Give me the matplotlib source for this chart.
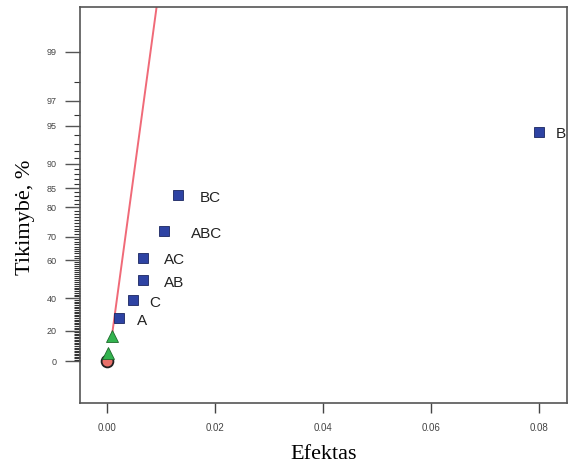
import matplotlib
matplotlib.use("Agg")
import matplotlib.pyplot as plt
from statistics import NormalDist

# half-normal probability plot of effects
effect_labels = ['A', 'C', 'AB', 'AC', 'ABC', 'BC', 'B']
effect_x = [0.0022, 0.0048, 0.0067, 0.0067, 0.0106, 0.0131, 0.0800]
effect_prob = [27.8, 38.9, 50.0, 61.1, 72.2, 83.3, 94.4]

error_x = [0.0002, 0.0009]
error_prob = [5.6, 16.7]

zero_x = [0.0]
zero_prob = [0.0]

line_x = [0.0009, 0.0096]
line_prob = [16.7, 99.8]

ytick_vals = [0, 20, 40, 60, 70, 80, 85, 90, 95, 97, 99]
xtick_vals = [0.00, 0.02, 0.04, 0.06, 0.08]

nd = NormalDist()


def hn(p):
    # percent -> half-normal quantile
    return nd.inv_cdf(0.5 + p / 200.0)


fig = plt.figure(figsize=(5.68, 4.66), dpi=100)
ax = fig.add_axes([0.141, 0.135, 0.857, 0.850])

ax.plot(line_x, [hn(p) for p in line_prob], color='#f06a78', lw=1.4, zorder=2)

ax.plot(zero_x, [hn(p) for p in zero_prob], 'o', ms=8.5, mfc='#e8706a',
        mec='#202020', mew=1.3, zorder=3)
ax.plot(error_x, [hn(p) for p in error_prob], '^', ms=9, mfc='#33b34f',
        mec='#1d6a2c', mew=0.6, zorder=4)
ax.plot(effect_x, [hn(p) for p in effect_prob], 's', ms=7, mfc='#2e43a3',
        mec='#1a2660', mew=0.6, zorder=4)

dx = [13, 12, 15, 15, 19, 16, 12]
for lab, x, p, d in zip(effect_labels, effect_x, effect_prob, dx):
    ax.annotate(lab, (x, hn(p)), xytext=(d, -2), textcoords='offset points',
                ha='left', va='center', fontsize=11, color='#222222',
                family='Liberation Sans', annotation_clip=False)

ax.set_xlim(-0.005, 0.0852)
ax.set_ylim(-0.35, 2.95)

ax.set_xticks(xtick_vals)
ax.set_xticklabels(['%.2f' % v for v in xtick_vals])
ax.set_yticks([hn(p) for p in ytick_vals])
ax.set_yticklabels([str(p) for p in ytick_vals])
ax.set_yticks([hn(p) for p in range(1, 99) if p not in ytick_vals], minor=True)

ax.tick_params(axis='x', length=7, width=1, color='#444444', pad=7,
               labelsize=7, labelcolor='#444444')
ax.tick_params(axis='y', which='major', length=11, width=1, color='#555555',
               pad=6, labelsize=6.5, labelcolor='#444444')
ax.tick_params(axis='y', which='minor', length=4, width=0.8, color='#333333')
for t in ax.get_xticklabels() + ax.get_yticklabels():
    t.set_family('Liberation Sans')

for s in ax.spines.values():
    s.set_color('#555555')
    s.set_linewidth(1.2)

ax.set_xlabel('Efektas', family='Liberation Serif', fontsize=16, labelpad=9)
ax.set_ylabel('Tikimybė, %', family='Liberation Serif', fontsize=16,
              labelpad=8, y=0.47)

fig.savefig('out.png', dpi=100)
